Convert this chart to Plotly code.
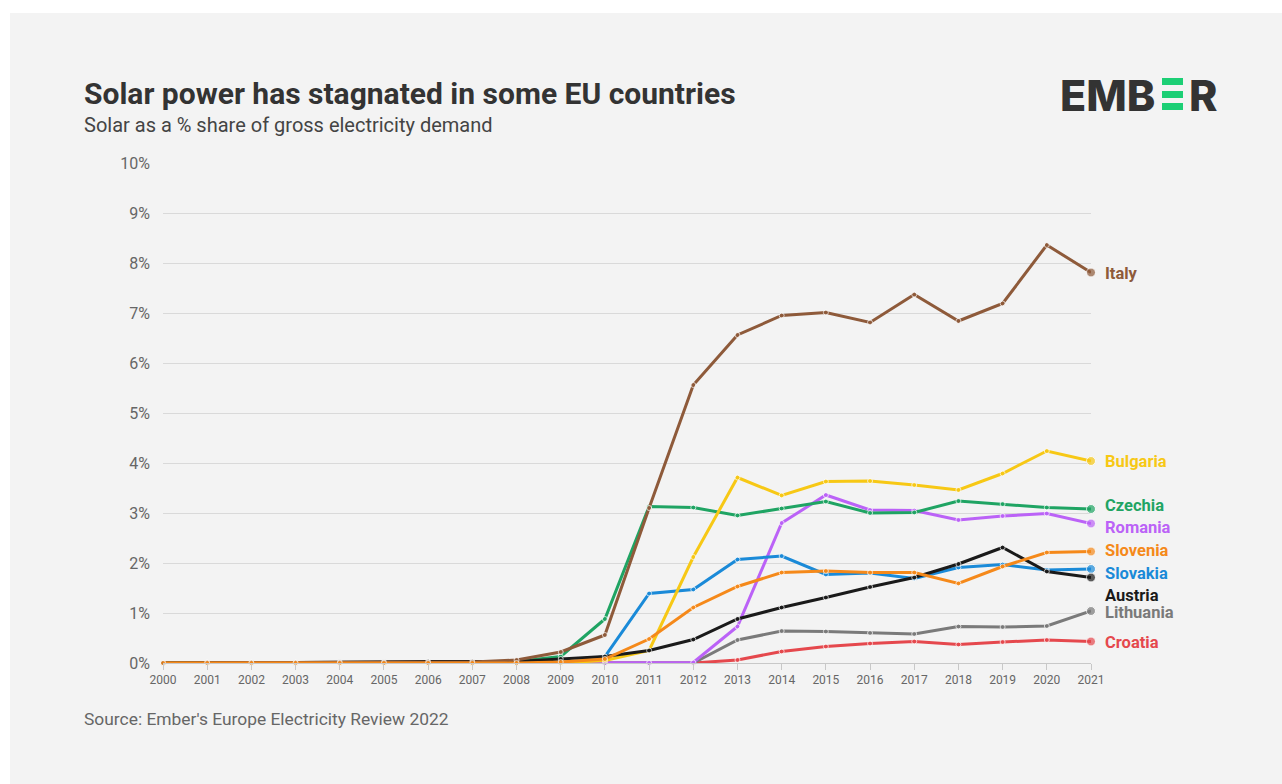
import plotly.graph_objects as go

# ---- data: solar share of gross electricity demand (%) ----
years = list(range(2000, 2022))

italy     = [0.00, 0.01, 0.01, 0.01, 0.01, 0.01, 0.01, 0.02, 0.06, 0.22, 0.56, 3.10, 5.56, 6.56, 6.95, 7.01, 6.81, 7.37, 6.84, 7.19, 8.36, 7.81]
bulgaria  = [0.00, 0.00, 0.00, 0.00, 0.00, 0.00, 0.00, 0.00, 0.00, 0.00, 0.05, 0.25, 2.12, 3.71, 3.35, 3.63, 3.64, 3.56, 3.46, 3.79, 4.24, 4.04]
czechia   = [0.00, 0.00, 0.00, 0.00, 0.00, 0.00, 0.00, 0.00, 0.03, 0.13, 0.88, 3.13, 3.11, 2.95, 3.09, 3.23, 3.00, 3.01, 3.24, 3.18, 3.11, 3.08]
romania   = [0.00, 0.00, 0.00, 0.00, 0.00, 0.00, 0.00, 0.00, 0.00, 0.00, 0.00, 0.00, 0.01, 0.73, 2.80, 3.36, 3.06, 3.05, 2.86, 2.94, 2.99, 2.79]
slovenia  = [0.00, 0.00, 0.00, 0.00, 0.00, 0.00, 0.00, 0.00, 0.00, 0.02, 0.08, 0.48, 1.11, 1.53, 1.81, 1.84, 1.81, 1.81, 1.59, 1.93, 2.21, 2.23]
slovakia  = [0.00, 0.00, 0.00, 0.00, 0.00, 0.00, 0.00, 0.00, 0.00, 0.00, 0.13, 1.39, 1.47, 2.07, 2.14, 1.77, 1.80, 1.69, 1.91, 1.97, 1.86, 1.88]
austria   = [0.00, 0.01, 0.01, 0.01, 0.02, 0.02, 0.03, 0.03, 0.03, 0.08, 0.13, 0.25, 0.47, 0.88, 1.11, 1.31, 1.52, 1.71, 1.98, 2.31, 1.83, 1.71]
lithuania = [0.00, 0.00, 0.00, 0.00, 0.00, 0.00, 0.00, 0.00, 0.00, 0.00, 0.00, 0.00, 0.00, 0.46, 0.64, 0.63, 0.60, 0.58, 0.73, 0.72, 0.74, 1.04]
croatia   = [0.00, 0.00, 0.00, 0.00, 0.00, 0.00, 0.00, 0.00, 0.00, 0.00, 0.00, 0.00, 0.00, 0.06, 0.23, 0.33, 0.39, 0.43, 0.37, 0.42, 0.46, 0.43]

y_ticks = list(range(0, 11))

# drawing order (first = bottom), colour, label height (in % units)
series = [
    ("Croatia",   croatia,   "#e5484d", 0.42),
    ("Lithuania", lithuania, "#7a7a7a", 1.02),
    ("Romania",   romania,   "#bb62f7", 2.72),
    ("Slovakia",  slovakia,  "#1a8ad8", 1.80),
    ("Czechia",   czechia,   "#1fa463", 3.16),
    ("Bulgaria",  bulgaria,  "#f7c815", 4.03),
    ("Austria",   austria,   "#1a1a1a", 1.36),
    ("Italy",     italy,     "#8e5a3a", 7.79),
    ("Slovenia",  slovenia,  "#f5891a", 2.26),
]

W, H = 1282, 784
L, R, T, B = 163, 191, 163, 121
PW, PH = W - L - R, H - T - B
BG = "#f3f3f3"
FONT = "Roboto"


def fx(x):
    return (x - L) / PW


def fy(y):
    return (H - B - y) / PH


fig = go.Figure()

for name, vals, color, _ in series:
    n = len(vals)
    fig.add_trace(go.Scatter(
        x=years, y=vals, mode="lines+markers", name=name,
        line=dict(color=color, width=3),
        marker=dict(color=color, size=[5] * (n - 1) + [9]),
        cliponaxis=False, hoverinfo="x+y+name",
    ))

# end labels with short leader lines
last_year = years[-1]
step = 1 / 44.19  # one pixel in year units
annotations = []
for name, vals, color, label_y in series:
    end = vals[-1]
    if name == "Austria":
        lx = [last_year + 6 * step, last_year + 8 * step, last_year + 8 * step, last_year + 11 * step]
        ly = [end, end, label_y, label_y]
    else:
        lx = [last_year + 6 * step, last_year + 10 * step]
        ly = [end, label_y]
    fig.add_trace(go.Scatter(
        x=lx, y=ly, mode="lines", line=dict(color="#aaaaaa", width=1),
        cliponaxis=False, hoverinfo="skip", showlegend=False,
    ))
    annotations.append(dict(
        x=last_year, y=label_y, xref="x", yref="y", text=f"<b>{name}</b>",
        showarrow=False, xanchor="left", yanchor="middle", xshift=12,
        font=dict(family=FONT, size=16.5, color=color),
    ))

annotations += [
    dict(x=fx(82), y=fy(93), xref="paper", yref="paper",
         text="<b>Solar power has stagnated in some EU countries</b>",
         showarrow=False, xanchor="left", yanchor="middle",
         font=dict(family=FONT, size=30, color="#333333")),
    dict(x=fx(82), y=fy(125), xref="paper", yref="paper",
         text="Solar as a % share of gross electricity demand",
         showarrow=False, xanchor="left", yanchor="middle",
         font=dict(family=FONT, size=20, color="#444444")),
    dict(x=fx(82), y=fy(719), xref="paper", yref="paper",
         text="Source: Ember's Europe Electricity Review 2022",
         showarrow=False, xanchor="left", yanchor="middle",
         font=dict(family=FONT, size=17.4, color="#666666")),
    dict(x=fx(1157), y=fy(95), xref="paper", yref="paper", text="EMB",
         showarrow=False, xanchor="right", yanchor="middle",
         font=dict(family="Inter", size=43, weight=800, color="#333333")),
    dict(x=fx(1187), y=fy(95), xref="paper", yref="paper", text="R",
         showarrow=False, xanchor="left", yanchor="middle",
         font=dict(family="Inter", size=43, weight=800, color="#333333")),
]

shapes = [
    dict(type="rect", xref="paper", yref="paper", layer="below",
         x0=fx(10), x1=fx(W), y0=fy(H), y1=fy(13),
         fillcolor=BG, line=dict(width=0)),
]
for top, bot in [(78, 85), (91, 98), (103, 110)]:
    shapes.append(dict(type="rect", xref="paper", yref="paper",
                       x0=fx(1162), x1=fx(1183), y0=fy(bot), y1=fy(top),
                       fillcolor="#1ccf75", line=dict(width=0)))

fig.update_layout(
    width=W, height=H,
    margin=dict(l=L, r=R, t=T, b=B, pad=0),
    paper_bgcolor="white", plot_bgcolor=BG,
    showlegend=False,
    font=dict(family=FONT, color="#666666"),
    annotations=annotations, shapes=shapes,
    xaxis=dict(
        range=[years[0], years[-1]], tickmode="array", tickvals=years,
        ticktext=[str(y) for y in years],
        showgrid=False, zeroline=False,
        showline=True, linecolor="#c8c8c8", linewidth=1,
        ticks="outside", ticklen=6, tickcolor="#c8c8c8",
        tickfont=dict(family=FONT, size=12, color="#666666"),
    ),
    yaxis=dict(
        range=[0, 10], tickmode="array", tickvals=y_ticks,
        ticktext=[f"{v}%" for v in y_ticks],
        showgrid=True, gridcolor="#d9d9d9", gridwidth=1,
        zeroline=False, showline=False, ticks="",
        ticklabelstandoff=12,
        tickfont=dict(family=FONT, size=16, color="#666666"),
    ),
)

fig.write_html("out.html")
